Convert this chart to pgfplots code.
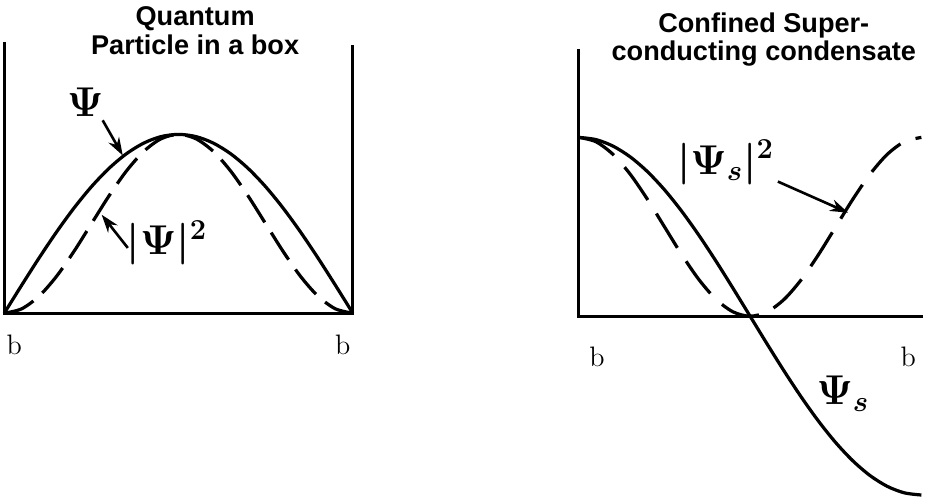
\documentclass[border=0pt]{standalone}
\usepackage{pgfplots}
\pgfplotsset{compat=1.18}
\usepackage{fontspec}
\newfontfamily\titlefont{Liberation Sans}
\usetikzlibrary{arrows.meta}
\begin{document}
\begin{tikzpicture}
% ---------------- left panel: particle in a box ----------------
\begin{axis}[at={(0pt,0pt)}, anchor=south west, scale only axis,
  width=231pt, height=252pt,
  xmin=-0.0288, xmax=1.3026, ymin=-1.0899, ymax=1.7416,
  hide axis, clip=false]
  % box walls
  \addplot[black, line width=1.6pt, line join=miter] coordinates {(0,1.517) (0,0) (1,0) (1,1.5)};
  % Psi = sin
  \addplot[black, line width=1.6pt, smooth] coordinates {
   (0,0) (0.05,0.1564) (0.10,0.3090) (0.15,0.4540) (0.20,0.5878) (0.25,0.7071)
   (0.30,0.8090) (0.35,0.8910) (0.40,0.9511) (0.45,0.9877) (0.50,1)
   (0.55,0.9877) (0.60,0.9511) (0.65,0.8910) (0.70,0.8090) (0.75,0.7071)
   (0.80,0.5878) (0.85,0.4540) (0.90,0.3090) (0.95,0.1564) (1,0)};
  % |Psi|^2
  \addplot[black, line width=1.6pt, smooth, dash pattern=on 16pt off 6pt] coordinates {
   (0,0) (0.05,0.0245) (0.10,0.0955) (0.15,0.2061) (0.20,0.3455) (0.25,0.5)
   (0.30,0.6545) (0.35,0.7939) (0.40,0.9045) (0.45,0.9755) (0.50,1)
   (0.55,0.9755) (0.60,0.9045) (0.65,0.7939) (0.70,0.6545) (0.75,0.5)
   (0.80,0.3455) (0.85,0.2061) (0.90,0.0955) (0.95,0.0245) (1,0)};
  \node[align=center, font=\titlefont\bfseries\fontsize{13.5}{14.5}\selectfont] at (axis cs:0.5476,1.579) {Quantum\\Particle in a box};
  \node[font=\fontsize{20}{22}\selectfont\boldmath] at (axis cs:0.233,1.18) {$\Psi$};
  \draw[-{Stealth[length=9pt,width=6pt]}, line width=1.3pt] (axis cs:0.2824,1.0787) -- (axis cs:0.3401,0.8820);
  \node[font=\fontsize{20}{22}\selectfont\boldmath] at (axis cs:0.4669,0.393) {$|\Psi|^2$};
  \draw[-{Stealth[length=9pt,width=6pt]}, line width=1.3pt] (axis cs:0.3545,0.365) -- (axis cs:0.2795,0.5506);
  \node[font=\fontsize{14}{16}\selectfont] at (axis cs:0.029,-0.18) {b};
  \node[font=\fontsize{14}{16}\selectfont] at (axis cs:0.971,-0.18) {b};
\end{axis}
% ---------------- right panel: superconducting condensate ----------------
\begin{axis}[at={(231pt,0pt)}, anchor=south west, scale only axis,
  width=231.5pt, height=252pt,
  xmin=-0.3519, xmax=1.0059, ymin=-1.0730, ymax=1.7584,
  hide axis, clip=false]
  \addplot[black, line width=1.6pt, line join=miter] coordinates {(0,1.494) (0,0) (1.0059,0)};
  % Psi_s = cos
  \addplot[black, line width=1.6pt, smooth] coordinates {
   (0,1) (0.05,0.9877) (0.10,0.9511) (0.15,0.8910) (0.20,0.8090) (0.25,0.7071)
   (0.30,0.5878) (0.35,0.4540) (0.40,0.3090) (0.45,0.1564) (0.50,0)
   (0.55,-0.1564) (0.60,-0.3090) (0.65,-0.4540) (0.70,-0.5878) (0.75,-0.7071)
   (0.80,-0.8090) (0.85,-0.8910) (0.90,-0.9511) (0.95,-0.9877) (1,-1)};
  % |Psi_s|^2
  \addplot[black, line width=1.6pt, smooth, dash pattern=on 20pt off 8pt] coordinates {
   (0,1) (0.05,0.9755) (0.10,0.9045) (0.15,0.7939) (0.20,0.6545) (0.25,0.5)
   (0.30,0.3455) (0.35,0.2061) (0.40,0.0955) (0.45,0.0245) (0.50,0)
   (0.55,0.0245) (0.60,0.0955) (0.65,0.2061) (0.70,0.3455) (0.75,0.5)
   (0.80,0.6545) (0.85,0.7939) (0.90,0.9045) (0.95,0.9755) (1,1)};
  \node[align=center, font=\titlefont\bfseries\fontsize{13.5}{14}\selectfont] at (axis cs:0.54,1.548) {Confined Super-\\conducting condensate};
  \node[font=\fontsize{22}{24}\selectfont\boldmath] at (axis cs:0.428,0.86) {$|\Psi_s|^2$};
  \draw[-{Stealth[length=9pt,width=6pt]}, line width=1.3pt] (axis cs:0.581,0.753) -- (axis cs:0.786,0.579);
  \node[font=\fontsize{22}{24}\selectfont\boldmath] at (axis cs:0.771,-0.433) {$\Psi_s$};
  \node[font=\fontsize{14}{16}\selectfont] at (axis cs:0.053,-0.225) {b};
  \node[font=\fontsize{14}{16}\selectfont] at (axis cs:0.962,-0.225) {b};
\end{axis}
\end{tikzpicture}
\end{document}
